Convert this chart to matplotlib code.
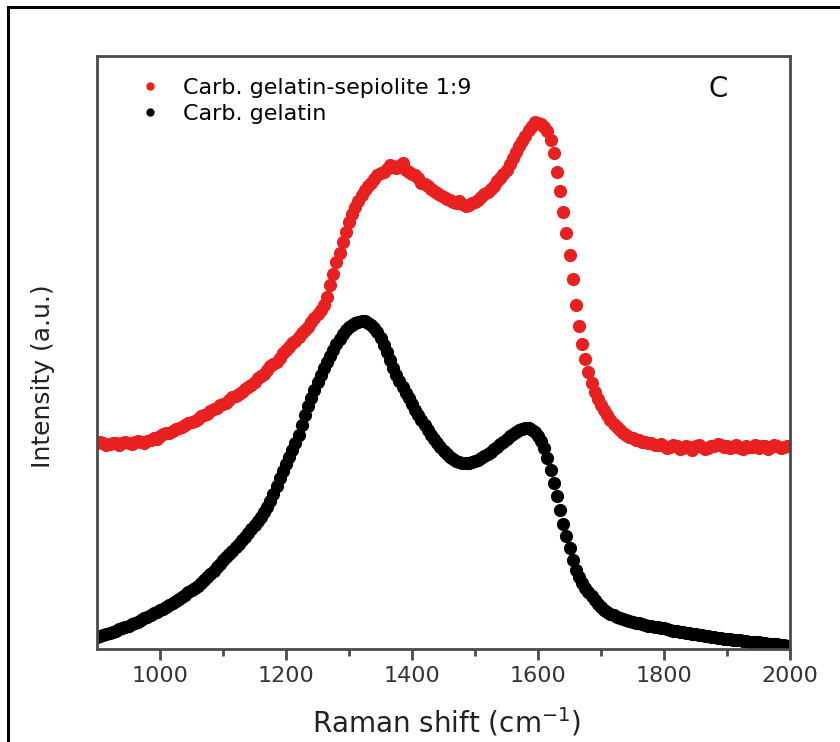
# Raman spectra: carbonized gelatin vs carbonized gelatin-sepiolite

import matplotlib
matplotlib.use('Agg')
import matplotlib.pyplot as plt
import numpy as np
from matplotlib.lines import Line2D

plt.rcParams['font.family'] = ['DejaVu Sans']

# Raman shift grid (cm-1), one point every 5 cm-1
shift = np.arange(900, 2001, 5)

# intensity (a.u., arbitrary offset)
sepiolite = [206, 207, 206, 204, 205, 206, 206, 204, 206, 207,
             206, 205, 207, 208, 207, 206, 208, 209, 211, 210,
             213, 215, 216, 216, 218, 220, 221, 222, 224, 226,
             227, 228, 230, 233, 234, 235, 238, 240, 241, 244,
             245, 246, 249, 252, 253, 255, 257, 260, 262, 264,
             267, 271, 273, 275, 279, 283, 285, 287, 291, 296,
             299, 302, 306, 308, 312, 316, 319, 322, 327, 331,
             335, 339, 344, 352, 364, 375, 387, 396, 407, 417,
             427, 435, 442, 448, 454, 459, 463, 466, 470, 474,
             476, 477, 480, 484, 483, 481, 483, 486, 479, 477,
             475, 474, 471, 466, 465, 463, 460, 458, 456, 454,
             452, 450, 449, 447, 446, 448, 445, 443, 444, 446,
             447, 449, 452, 455, 457, 460, 463, 468, 471, 475,
             479, 485, 491, 497, 503, 508, 513, 519, 523, 527,
             526, 525, 522, 518, 509, 496, 477, 458, 437, 416,
             394, 370, 344, 323, 305, 290, 277, 266, 257, 250,
             244, 239, 234, 229, 225, 222, 219, 216, 214, 212,
             211, 209, 209, 207, 207, 206, 206, 204, 204, 205,
             203, 201, 202, 204, 203, 200, 201, 203, 202, 199,
             203, 204, 202, 200, 201, 203, 203, 205, 204, 202,
             203, 201, 202, 204, 201, 200, 203, 202, 202, 204,
             201, 203, 203, 200, 202, 204, 203, 201, 202, 203,
             203]

gelatin = [12, 13, 14, 15, 16, 17, 18, 20, 21, 22,
           23, 25, 26, 27, 29, 31, 32, 34, 36, 37,
           39, 40, 42, 44, 46, 48, 50, 52, 54, 57,
           59, 61, 63, 66, 69, 72, 75, 78, 82, 85,
           89, 92, 95, 98, 102, 105, 109, 112, 116, 120,
           124, 128, 132, 137, 142, 148, 155, 163, 171, 178,
           185, 192, 199, 206, 214, 224, 234, 243, 251, 259,
           267, 274, 281, 287, 293, 299, 305, 310, 315, 319,
           322, 324, 326, 327, 328, 328, 326, 324, 321, 317,
           311, 304, 297, 289, 281, 274, 268, 262, 256, 251,
           245, 239, 234, 229, 224, 219, 214, 210, 206, 202,
           198, 195, 192, 190, 188, 187, 186, 186, 186, 187,
           188, 189, 191, 193, 195, 197, 200, 202, 205, 207,
           210, 213, 215, 217, 219, 220, 221, 221, 219, 217,
           213, 208, 201, 191, 179, 166, 153, 139, 125, 113,
           101, 89, 79, 72, 66, 61, 57, 53, 49, 45,
           42, 39, 37, 35, 34, 32, 31, 30, 29, 28,
           27, 26, 26, 25, 24, 23, 23, 22, 22, 21,
           21, 20, 19, 18, 18, 17, 17, 16, 16, 15,
           15, 14, 14, 13, 13, 12, 12, 11, 11, 10,
           10, 10, 9, 9, 9, 8, 8, 7, 7, 7,
           7, 6, 6, 5, 5, 5, 5, 4, 4, 3,
           3]

labels = ['Carb. gelatin-sepiolite 1:9', 'Carb. gelatin']
colors = ['#e8201f', '#000000']

fig = plt.figure(figsize=(8.4, 7.42), dpi=100)
ax = fig.add_axes([0.1155, 0.1253, 0.825, 0.7992])

ax.plot(shift, sepiolite, 'o', color=colors[0], ms=9.5, mec='none')
ax.plot(shift, gelatin, 'o', color=colors[1], ms=9.5, mec='none')

ax.set_xlim(900, 2000)
ax.set_ylim(0, 593)
ax.set_xticks(np.arange(1000, 2001, 200))
ax.set_xticks(np.arange(1100, 2000, 200), minor=True)
ax.set_yticks([])
ax.tick_params(axis='x', which='major', direction='out', length=8, width=2,
               color='#4a4a4a', labelsize=16, labelcolor='#333333', pad=4)
ax.tick_params(axis='x', which='minor', direction='out', length=5, width=2,
               color='#4a4a4a')
for s in ax.spines.values():
    s.set_color('#4a4a4a')
    s.set_linewidth(2)

ax.set_xlabel('Raman shift (cm$^{-1}$)', fontsize=20, color='#222222')
ax.xaxis.set_label_coords(0.504, -0.095)
ax.set_ylabel('Intensity (a.u.)', fontsize=18, color='#222222')
ax.yaxis.set_label_coords(-0.06, 0.46)

handles = [Line2D([], [], ls='none', marker='o', ms=6, mec='none', color=c) for c in colors]
ax.legend(handles, labels, loc='upper left', frameon=False, fontsize=16,
          handlelength=1.2, handletextpad=0.9, labelspacing=0.3,
          borderaxespad=0.3, bbox_to_anchor=(0.035, 0.99))
ax.text(0.897, 0.945, 'C', transform=ax.transAxes, fontsize=20,
        ha='center', va='center', color='#111111')

# outer frame of the panel (only left and top edges are visible)
fig.add_artist(Line2D([8 / 840, 8 / 840], [0, 1 - 7 / 742], color='black', lw=2.2))
fig.add_artist(Line2D([8 / 840, 1], [1 - 7 / 742, 1 - 7 / 742], color='black', lw=2.2))

fig.savefig('out.png', dpi=100)
